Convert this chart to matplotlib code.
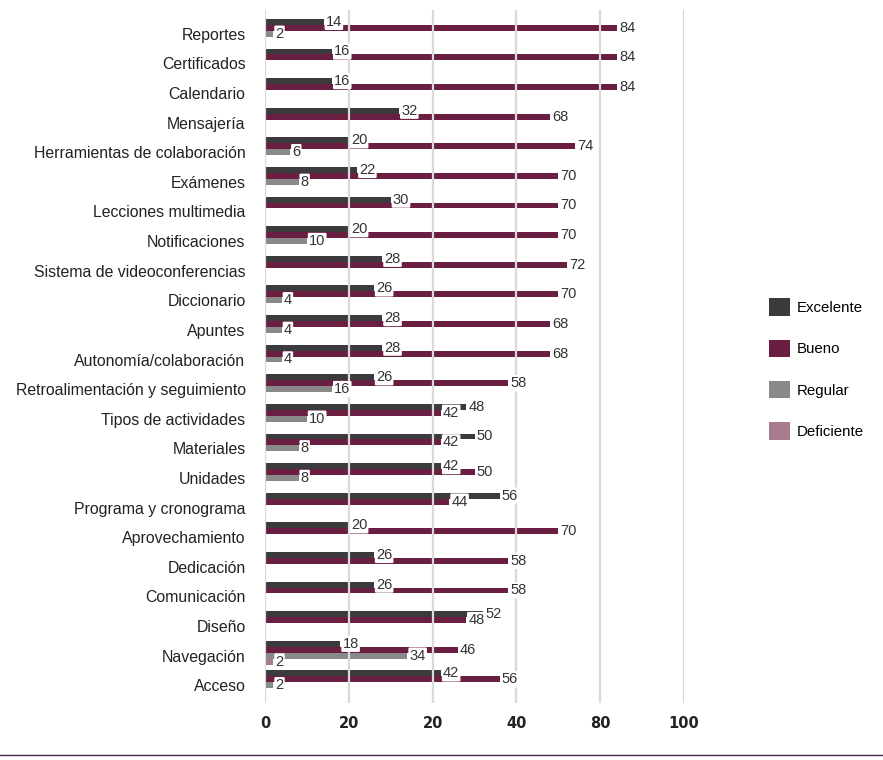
import numpy as np
import matplotlib.pyplot as plt
import matplotlib.transforms as mtransforms
from matplotlib.patches import Patch
from matplotlib.lines import Line2D

plt.rcParams['font.family'] = ['Liberation Sans', 'DejaVu Sans']

# data, top to bottom as in the chart
categories = ['Reportes', 'Certificados', 'Calendario', 'Mensajería',
              'Herramientas de colaboración', 'Exámenes', 'Lecciones multimedia',
              'Notificaciones', 'Sistema de videoconferencias', 'Diccionario',
              'Apuntes', 'Autonomía/colaboración', 'Retroalimentación y seguimiento',
              'Tipos de actividades', 'Materiales', 'Unidades', 'Programa y cronograma',
              'Aprovechamiento', 'Dedicación', 'Comunicación', 'Diseño',
              'Navegación', 'Acceso']
excelente = [14, 16, 16, 32, 20, 22, 30, 20, 28, 26, 28, 28, 26, 48, 50, 42, 56, 20, 26, 26, 52, 18, 42]
bueno = [84, 84, 84, 68, 74, 70, 70, 70, 72, 70, 68, 68, 58, 42, 42, 50, 44, 70, 58, 58, 48, 46, 56]
regular = [2, 0, 0, 0, 6, 8, 0, 10, 0, 4, 4, 4, 16, 10, 8, 8, 0, 0, 0, 0, 0, 34, 2]
deficiente = [0, 0, 0, 0, 0, 0, 0, 0, 0, 0, 0, 0, 0, 0, 0, 0, 0, 0, 0, 0, 0, 2, 0]
series_names = ['Excelente', 'Bueno', 'Regular', 'Deficiente']
tick_vals = [0, 20, 40, 60, 80, 100]
tick_labels = ['0', '20', '20', '40', '80', '100']

colors = ['#3b3b3d', '#6a1e42', '#898989', '#a97b8f']

fig = plt.figure(figsize=(8.83, 7.6), dpi=100)
ax = fig.add_axes([265 / 883, 1 - 703 / 760, 419 / 883, 693 / 760])

y = np.arange(len(categories))
h = 0.2
offsets = [-0.3, -0.1, 0.1, 0.3]
all_series = [excelente, bueno, regular, deficiente]

for vals, off, col, name in zip(all_series, offsets, colors, series_names):
    vals = np.array(vals)
    ax.barh(y + off, vals, height=h, color=col, label=name, zorder=1)
    for yi, v in zip(y, vals):
        if v > 0:
            ax.annotate(str(v), xy=(v, yi + off), xytext=(1.5, 0),
                        textcoords='offset points', ha='left', va='center',
                        fontsize=10.5, color='#333333', zorder=4,
                        bbox=dict(boxstyle='round,pad=0.08', fc='white', ec='none'))

ax.set_xlim(0, 100)
ax.set_ylim(len(categories) - 0.3, -0.7)
ax.set_xticks(tick_vals)
ax.set_xticklabels(tick_labels, fontsize=10.5, fontweight='bold',
                   family=['DejaVu Sans'], color='#222222')
ax.set_yticks(y)
ax.set_yticklabels(categories, fontsize=11.4, color='#222222')
ax.tick_params(axis='both', length=0)
ax.tick_params(axis='y', pad=14)
ax.tick_params(axis='x', pad=9)
# category names sit a little below the group centre in the original
shift = mtransforms.ScaledTranslation(0, -3 / 100, fig.dpi_scale_trans)
for lbl in ax.get_yticklabels():
    lbl.set_va('center_baseline')
    lbl.set_transform(lbl.get_transform() + shift)
for s in ax.spines.values():
    s.set_visible(False)
ax.set_axisbelow(False)
ax.grid(axis='x', color='#d9d9d9', lw=1.6)
ax.grid(axis='y', visible=False)

handles = [Patch(facecolor=c, edgecolor='none') for c in colors]
fig.legend(handles, series_names, loc='center left',
           bbox_to_anchor=(769 / 883, 1 - 369 / 760), frameon=False,
           fontsize=10.8, handlelength=1.4, handleheight=1.4,
           labelspacing=1.6, handletextpad=0.45, borderpad=0, borderaxespad=0)

fig.add_artist(Line2D([0, 1], [1 - 755 / 760, 1 - 755 / 760],
                      transform=fig.transFigure, color='#4a2442', lw=1))

fig.savefig('out.png', dpi=100)
